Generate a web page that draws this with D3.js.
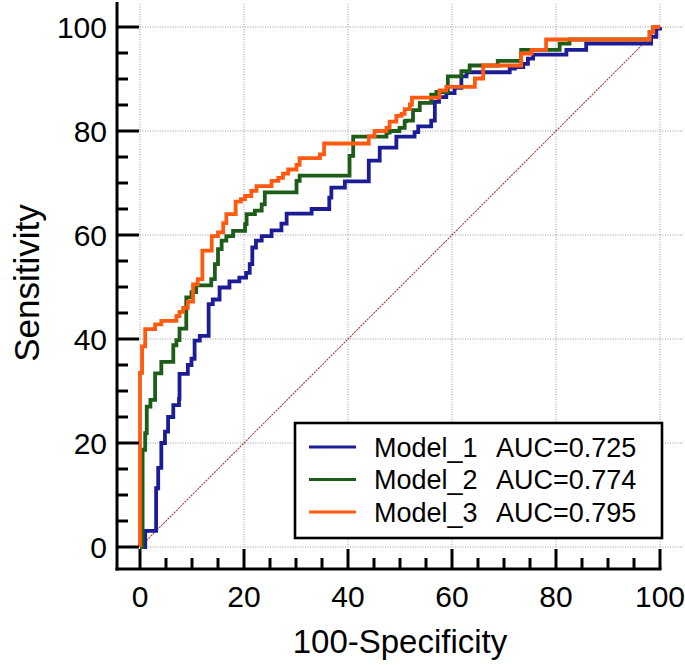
<!DOCTYPE html>
<html>
<head>
<meta charset="utf-8">
<script src="https://cdn.jsdelivr.net/npm/d3@7"></script>
<style>
  body { margin: 0; background: #fff; }
  text { font-family: "Liberation Sans", Arial, sans-serif; fill: #000; }
</style>
</head>
<body>
<div id="roc"></div>
<script>
// ROC step points (100-Specificity, Sensitivity)
var model1X = [0, 1.0, 3.1, 3.5, 4.1, 4.8, 5.4, 6.4, 7.5, 7.6, 9.2, 9.9, 10.5, 11.5, 13.2, 14.0, 15.3, 17.2, 19.1, 20.4, 21.1, 21.6, 22.3, 23.4, 25.3, 27.2, 28.2, 33.0, 36.4, 36.8, 39.4, 44.0, 46.1, 49.3, 52.8, 53.5, 56.0, 56.7, 57.5, 58.9, 60.5, 61.8, 62.8, 71.1, 72.1, 73.7, 74.6, 75.6, 82.0, 85.8, 98.3, 99.3, 100];
var model1Y = [0, 3.1, 11.3, 15.2, 20.0, 22.2, 25.0, 27.3, 28.5, 33.3, 35.0, 36.2, 39.7, 40.6, 46.7, 47.6, 49.9, 51.1, 51.8, 52.7, 54.4, 57.6, 58.9, 59.8, 60.9, 62.2, 64.1, 65.0, 67.2, 69.1, 70.3, 74.3, 76.8, 78.9, 79.8, 80.9, 82.0, 85.6, 86.5, 87.3, 88.3, 90.5, 91.3, 92.0, 92.3, 92.9, 93.9, 94.7, 95.6, 96.8, 98.1, 99.7, 100];

var model2X = [0, 0.5, 1.0, 1.3, 2.0, 2.9, 4.1, 6.4, 7.0, 7.6, 8.9, 9.9, 10.8, 13.7, 14.4, 15.0, 15.7, 16.6, 17.9, 20.2, 20.5, 22.1, 23.4, 24.0, 30.1, 30.7, 40.3, 41.0, 47.4, 48.0, 49.9, 50.9, 51.2, 52.5, 53.8, 56.0, 57.0, 59.2, 61.8, 63.4, 68.8, 73.3, 80.7, 82.6, 98.0, 98.7, 100];
var model2Y = [0, 18.7, 21.9, 27.0, 28.3, 33.4, 35.6, 38.8, 39.8, 42.0, 48.0, 49.0, 50.3, 51.5, 54.4, 57.3, 58.9, 59.8, 60.8, 62.1, 64.0, 64.7, 65.9, 68.2, 70.4, 71.4, 75.2, 78.9, 79.7, 80.0, 80.6, 81.9, 82.0, 84.0, 85.4, 87.0, 87.5, 90.5, 91.5, 92.6, 93.5, 95.6, 96.8, 97.6, 99.0, 100, 100];

var model3X = [0, 0, 0.4, 1.0, 2.9, 4.1, 7.0, 7.6, 8.3, 9.2, 10.2, 11.1, 12.0, 13.8, 15.0, 16.0, 16.6, 18.4, 19.4, 20.2, 21.4, 22.4, 25.3, 26.6, 27.5, 28.5, 30.1, 30.7, 34.6, 35.4, 44.0, 45.1, 47.4, 48.0, 49.3, 50.3, 50.9, 51.9, 52.3, 57.6, 58.9, 64.4, 66.0, 73.3, 75.3, 78.1, 98.0, 98.7, 100];
var model3Y = [0, 33.5, 38.6, 41.9, 42.8, 43.5, 44.4, 45.2, 46.0, 47.2, 50.5, 51.5, 57.0, 59.8, 60.5, 62.3, 64.0, 66.4, 66.9, 67.5, 68.5, 69.4, 70.4, 71.0, 71.8, 72.6, 73.5, 74.8, 75.5, 77.6, 79.0, 80.0, 80.6, 81.8, 82.9, 83.3, 84.2, 85.1, 86.4, 87.8, 88.5, 90.1, 92.6, 94.9, 95.6, 97.6, 99.0, 100, 100];

var modelNames = ["Model_1", "Model_2", "Model_3"];
var modelAUC = ["0.725", "0.774", "0.795"];
var modelColors = ["#1c1c96", "#1e5c1a", "#ff5a0f"];

var majorTicks = [0, 20, 40, 60, 80, 100];
var minorTicks = [5, 10, 15, 25, 30, 35, 45, 50, 55, 65, 70, 75, 85, 90, 95];

var svgWidth = 685;
var svgHeight = 665;

var svg = d3.select("#roc")
  .append("svg")
  .attr("width", svgWidth)
  .attr("height", svgHeight);

var x = d3.scaleLinear().domain([0, 100]).range([140, 660]);
var y = d3.scaleLinear().domain([0, 100]).range([547, 27]);

var axisX = 117;   // left axis line position
var axisY = 569;   // bottom axis line position

// ===== dotted grid =====
var grid = svg.append("g")
  .attr("stroke", "#9a9a9a")
  .attr("stroke-width", 1)
  .attr("stroke-dasharray", "1,1.5");

grid.selectAll(".vgrid")
  .data(majorTicks)
  .enter()
  .append("line")
  .attr("x1", d => x(d)).attr("x2", d => x(d))
  .attr("y1", 4).attr("y2", y(0));

grid.selectAll(".hgrid")
  .data(majorTicks)
  .enter()
  .append("line")
  .attr("x1", x(0)).attr("x2", 683)
  .attr("y1", d => y(d)).attr("y2", d => y(d));

// ===== reference diagonal =====
svg.append("line")
  .attr("x1", x(0)).attr("y1", y(0))
  .attr("x2", x(100)).attr("y2", y(100))
  .attr("stroke", "#a83a3a")
  .attr("stroke-width", 1.1)
  .attr("stroke-dasharray", "2,1");

// ===== ROC curves =====
var line = d3.line()
  .x(d => x(d[0]))
  .y(d => y(d[1]))
  .curve(d3.curveStepAfter);

var curves = [
  d3.zip(model1X, model1Y),
  d3.zip(model2X, model2Y),
  d3.zip(model3X, model3Y)
];

svg.selectAll(".roc")
  .data(curves)
  .enter()
  .append("path")
  .attr("d", line)
  .attr("fill", "none")
  .attr("stroke", (d, i) => modelColors[i])
  .attr("stroke-width", 3.8)
  .attr("stroke-linejoin", "miter");

// ===== axes =====
var axes = svg.append("g")
  .attr("stroke", "#000")
  .attr("stroke-width", 3);

axes.append("line")
  .attr("x1", axisX).attr("x2", axisX)
  .attr("y1", 2).attr("y2", axisY + 1.5);

axes.append("line")
  .attr("x1", axisX - 1.5).attr("x2", x(100) + 1.5)
  .attr("y1", axisY).attr("y2", axisY);

axes.selectAll(".ymajor")
  .data(majorTicks)
  .enter()
  .append("line")
  .attr("x1", axisX).attr("x2", axisX + 22)
  .attr("y1", d => y(d)).attr("y2", d => y(d));

axes.selectAll(".yminor")
  .data(minorTicks)
  .enter()
  .append("line")
  .attr("x1", axisX).attr("x2", axisX + 11)
  .attr("y1", d => y(d)).attr("y2", d => y(d));

axes.selectAll(".xmajor")
  .data(majorTicks)
  .enter()
  .append("line")
  .attr("x1", d => x(d)).attr("x2", d => x(d))
  .attr("y1", axisY).attr("y2", axisY - 20);

axes.selectAll(".xminor")
  .data(minorTicks)
  .enter()
  .append("line")
  .attr("x1", d => x(d)).attr("x2", d => x(d))
  .attr("y1", axisY).attr("y2", axisY - 11);

// tick labels
svg.selectAll(".ylab")
  .data(majorTicks)
  .enter()
  .append("text")
  .attr("x", 107)
  .attr("y", d => y(d) + 11)
  .attr("text-anchor", "end")
  .attr("font-size", 30)
  .text(d => d);

svg.selectAll(".xlab")
  .data(majorTicks)
  .enter()
  .append("text")
  .attr("x", d => x(d))
  .attr("y", 607)
  .attr("text-anchor", "middle")
  .attr("font-size", 30)
  .text(d => d);

// axis titles
svg.append("text")
  .attr("x", 400)
  .attr("y", 653)
  .attr("text-anchor", "middle")
  .attr("font-size", 33)
  .text("100-Specificity");

svg.append("text")
  .attr("transform", "translate(39, 283) rotate(-90)")
  .attr("text-anchor", "middle")
  .attr("font-size", 35)
  .text("Sensitivity");

// ===== legend =====
var legend = svg.append("g");

legend.append("rect")
  .attr("x", 295).attr("y", 423)
  .attr("width", 367).attr("height", 115)
  .attr("fill", "#fff")
  .attr("stroke", "#000")
  .attr("stroke-width", 2.6);

var rows = legend.selectAll(".entry")
  .data(modelNames)
  .enter()
  .append("g")
  .attr("transform", (d, i) => `translate(0, ${447 + i * 32.5})`);

rows.append("line")
  .attr("x1", 309).attr("x2", 356)
  .attr("stroke", (d, i) => modelColors[i])
  .attr("stroke-width", 3);

rows.append("text")
  .attr("x", 374)
  .attr("y", 9.5)
  .attr("font-size", 27)
  .text(d => d);

rows.append("text")
  .attr("x", 496)
  .attr("y", 9.5)
  .attr("font-size", 27)
  .text((d, i) => "AUC=" + modelAUC[i]);
</script>
</body>
</html>
